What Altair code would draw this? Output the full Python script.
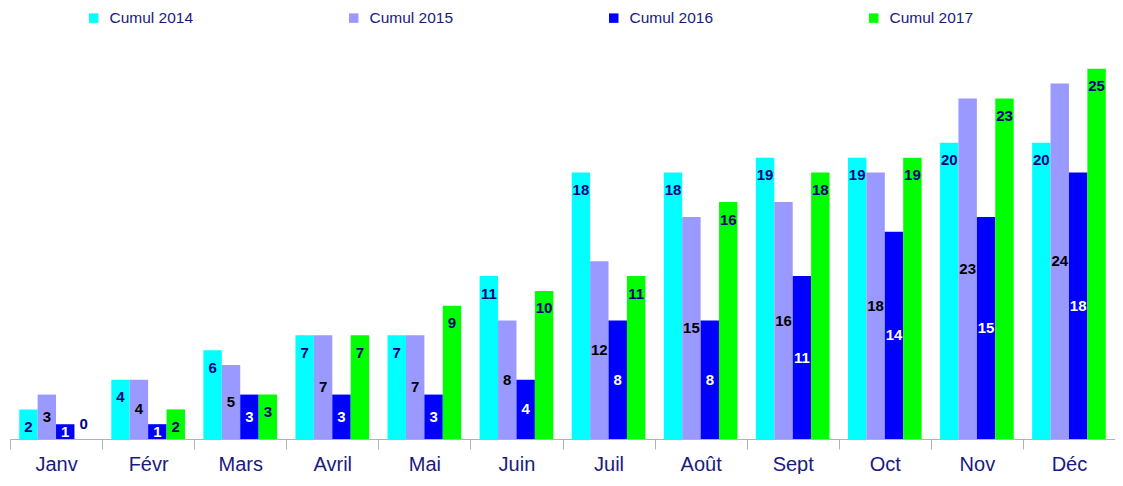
import altair as alt
import pandas as pd

months = ["Janv", "Févr", "Mars", "Avril", "Mai", "Juin", "Juil", "Août", "Sept", "Oct", "Nov", "Déc"]
series = ["Cumul 2014", "Cumul 2015", "Cumul 2016", "Cumul 2017"]
cumul_2014 = [2, 4, 6, 7, 7, 11, 18, 18, 19, 19, 20, 20]
cumul_2015 = [3, 4, 5, 7, 7, 8, 12, 15, 16, 18, 23, 24]
cumul_2016 = [1, 1, 3, 3, 3, 4, 8, 8, 11, 14, 15, 18]
cumul_2017 = [0, 2, 3, 7, 9, 10, 11, 16, 18, 19, 23, 25]

bar_colors = ["#00FFFF", "#9999FF", "#0000FF", "#00FF00"]
label_colors = ["#000080", "#000000", "#FFFFFF", "#000080"]

rows = []
for s, vals in zip(series, [cumul_2014, cumul_2015, cumul_2016, cumul_2017]):
    for m, v in zip(months, vals):
        rows.append({"mois": m, "serie": s, "v": v})
df = pd.DataFrame(rows)

x_enc = alt.X(
    "mois:N",
    sort=months,
    title=None,
    scale=alt.Scale(paddingInner=0, paddingOuter=0),
    axis=alt.Axis(
        labelAngle=0,
        labelFont="Liberation Sans",
        labelFontSize=20,
        labelColor="#1a1a80",
        labelPadding=5,
        domainColor="#b3b3b3",
        tickColor="#b3b3b3",
        tickSize=10,
        tickBand="extent",
        grid=False,
    ),
)
xoff = alt.XOffset("serie:N", sort=series, scale=alt.Scale(paddingInner=0, paddingOuter=0.5))
y_scale = alt.Scale(domain=[0, 26], nice=False)

bars = alt.Chart(df).mark_bar().encode(
    x=x_enc,
    xOffset=xoff,
    y=alt.Y("v:Q", scale=y_scale, axis=None),
    color=alt.Color(
        "serie:N",
        sort=series,
        scale=alt.Scale(domain=series, range=bar_colors),
        legend=alt.Legend(
            title=None,
            orient="none",
            direction="horizontal",
            legendX=76,
            legendY=-44,
            symbolType="square",
            symbolSize=90,
            symbolStrokeWidth=0,
            labelFont="Liberation Sans",
            labelFontSize=15.5,
            labelColor="#1a1a80",
            labelOffset=8,
            columnPadding=152,
            padding=0,
        ),
    ),
)

labels = alt.Chart(df).transform_calculate(
    ly="(datum.serie == 'Cumul 2015' || datum.serie == 'Cumul 2016') ? datum.v / 2 : (datum.v > 0 ? datum.v - 1.18 : 1)"
).mark_text(
    font="Liberation Sans", fontSize=15, fontWeight="bold", baseline="middle", align="center"
).encode(
    x=x_enc,
    xOffset=xoff,
    y=alt.Y("ly:Q", scale=y_scale, axis=None),
    text="v:Q",
    color=alt.Color("serie:N", scale=alt.Scale(domain=series, range=label_colors), legend=None),
)

chart = (
    alt.layer(bars, labels)
    .resolve_scale(color="independent")
    .properties(
        width=1105,
        height=385,
        autosize=alt.AutoSizeParams(type="none"),
        padding={"left": 2, "right": 0, "top": 46, "bottom": 35},
    )
    .configure_view(stroke=None)
)

chart.save("out.html", embed_options={"renderer": "svg", "actions": False})
